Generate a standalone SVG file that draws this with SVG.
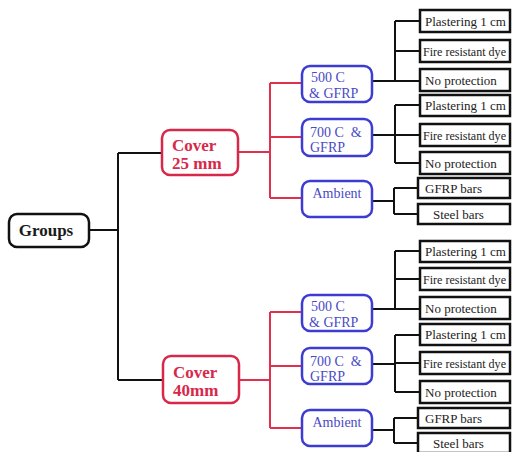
<svg xmlns="http://www.w3.org/2000/svg" width="513" height="452" viewBox="0 0 513 452">
<style>
  .root rect { fill: #fff; stroke: #111; stroke-width: 2.5; }
  .cover rect { fill: #fff; stroke: #d8284a; stroke-width: 2.5; }
  .mid rect { fill: #fff; stroke: #3c3cd2; stroke-width: 2.5; }
  .leaf rect { fill: #fff; stroke: #111; stroke-width: 2.5; }
  .t-root { font-family: "Liberation Serif", serif; font-weight: bold; font-size: 17px; fill: #1a1a1a; }
  .t-cover { font-family: "Liberation Serif", serif; font-weight: bold; font-size: 17px; fill: #d8284a; }
  .t-mid { font-family: "Liberation Serif", serif; font-size: 14px; fill: #4a4ac6; }
  .t-leaf { font-family: "Liberation Serif", serif; font-size: 13px; fill: #222; }
  .blk { stroke: #111; stroke-width: 2; fill: none; }
  .red { stroke: #e0304e; stroke-width: 2; fill: none; }
</style>
<g id="connectors">
  <path class="blk" d="M89 230 H118 M118 153 V380 M118 153 H162 M118 380 H163"/>
  <path class="red" d="M238 152 H270 M270 83 V198 M270 83 H302 M270 137 H302 M270 198 H302"/>
  <path class="red" d="M239 380 H270 M270 312 V428 M270 312 H302 M270 366 H302 M270 428 H302"/>
  <path class="blk" d="M372 81 H395 M395 21 V81 M395 21 H420 M395 51 H420 M395 81 H420"/>
  <path class="blk" d="M372 135 H395 M395 105 V163 M395 105 H420 M395 135 H420 M395 163 H420"/>
  <path class="blk" d="M372 201 H394 M394 188 V214 M394 188 H418 M394 214 H418"/>
  <path class="blk" d="M372 309 H395 M395 251 V309 M395 251 H420 M395 279 H420 M395 309 H420"/>
  <path class="blk" d="M372 364 H395 M395 335 V392 M395 335 H420 M395 363 H420 M395 392 H420"/>
  <path class="blk" d="M372 430 H394 M394 418 V443 M394 418 H418 M394 443 H418"/>
</g>
<g id="groups" class="root"><rect x="9" y="214" width="80" height="33" rx="8"/><text class="t-root" x="46" y="236" text-anchor="middle">Groups</text></g>
<g id="cover25" class="cover"><rect x="162" y="130" width="76" height="45" rx="8"/><text class="t-cover" x="172" y="151">Cover</text><text class="t-cover" x="172" y="169">25 mm</text></g>
<g id="cover40" class="cover"><rect x="163" y="356" width="76" height="47" rx="8"/><text class="t-cover" x="173" y="378">Cover</text><text class="t-cover" x="173" y="396">40mm</text></g>

<g id="t500" class="mid"><rect x="302" y="66" width="70" height="36" rx="8"/><text class="t-mid" x="311" y="82">500 C</text><text class="t-mid" x="309" y="98">&amp; GFRP</text></g>
<g id="t700" class="mid"><rect x="302" y="119" width="70" height="37" rx="8"/><text class="t-mid" x="310" y="137" xml:space="preserve">700 C  &amp;</text><text class="t-mid" x="310" y="152">GFRP</text></g>
<g id="tamb" class="mid"><rect x="302" y="181" width="70" height="36" rx="8"/><text class="t-mid" x="337" y="198" text-anchor="middle">Ambient</text></g>

<g id="b500" class="mid"><rect x="302" y="295" width="70" height="36" rx="8"/><text class="t-mid" x="311" y="311">500 C</text><text class="t-mid" x="309" y="327">&amp; GFRP</text></g>
<g id="b700" class="mid"><rect x="302" y="348" width="70" height="36" rx="8"/><text class="t-mid" x="310" y="366" xml:space="preserve">700 C  &amp;</text><text class="t-mid" x="310" y="381">GFRP</text></g>
<g id="bamb" class="mid"><rect x="302" y="410" width="70" height="36" rx="8"/><text class="t-mid" x="337" y="427" text-anchor="middle">Ambient</text></g>

<g id="tp1" class="leaf"><rect x="420" y="10" width="90" height="22"/><text class="t-leaf" x="425" y="26">Plastering 1 cm</text></g>
<g id="tf1" class="leaf"><rect x="420" y="40" width="90" height="22"/><text class="t-leaf" x="423" y="56" textLength="83" lengthAdjust="spacingAndGlyphs">Fire resistant dye</text></g>
<g id="tn1" class="leaf"><rect x="420" y="69" width="90" height="22"/><text class="t-leaf" x="425" y="85">No protection</text></g>
<g id="tp2" class="leaf"><rect x="420" y="95" width="90" height="21"/><text class="t-leaf" x="425" y="110">Plastering 1 cm</text></g>
<g id="tf2" class="leaf"><rect x="420" y="124" width="90" height="22"/><text class="t-leaf" x="423" y="140" textLength="83" lengthAdjust="spacingAndGlyphs">Fire resistant dye</text></g>
<g id="tn2" class="leaf"><rect x="420" y="152" width="90" height="22"/><text class="t-leaf" x="425" y="168">No protection</text></g>
<g id="tg" class="leaf"><rect x="418" y="178" width="92" height="20"/><text class="t-leaf" x="425" y="193">GFRP bars</text></g>
<g id="ts" class="leaf"><rect x="418" y="204" width="92" height="20"/><text class="t-leaf" x="433" y="219">Steel bars</text></g>

<g id="bp1" class="leaf"><rect x="420" y="241" width="90" height="21"/><text class="t-leaf" x="425" y="256">Plastering 1 cm</text></g>
<g id="bf1" class="leaf"><rect x="420" y="268" width="90" height="22"/><text class="t-leaf" x="423" y="284" textLength="83" lengthAdjust="spacingAndGlyphs">Fire resistant dye</text></g>
<g id="bn1" class="leaf"><rect x="420" y="297" width="90" height="22"/><text class="t-leaf" x="425" y="313">No protection</text></g>
<g id="bp2" class="leaf"><rect x="420" y="324" width="90" height="21"/><text class="t-leaf" x="425" y="339">Plastering 1 cm</text></g>
<g id="bf2" class="leaf"><rect x="420" y="352" width="90" height="22"/><text class="t-leaf" x="423" y="368" textLength="83" lengthAdjust="spacingAndGlyphs">Fire resistant dye</text></g>
<g id="bn2" class="leaf"><rect x="420" y="381" width="90" height="22"/><text class="t-leaf" x="425" y="397">No protection</text></g>
<g id="bg" class="leaf"><rect x="418" y="408" width="92" height="20"/><text class="t-leaf" x="425" y="423">GFRP bars</text></g>
<g id="bs" class="leaf"><rect x="418" y="433" width="92" height="20"/><text class="t-leaf" x="433" y="448">Steel bars</text></g>
</svg>
